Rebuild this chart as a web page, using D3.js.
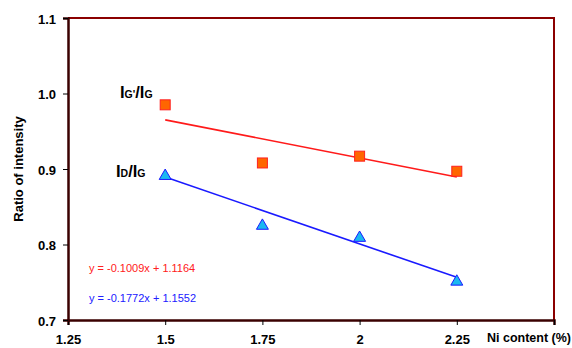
<!DOCTYPE html>
<html lang="en">
<head>
<meta charset="utf-8">
<title>Ratio of intensity vs Ni content</title>
<script src="https://d3js.org/d3.v7.min.js"></script>
<style>
	body { margin: 0; background: #fff; }
	text { font-family: Arial, "Liberation Sans", sans-serif; }
</style>
</head>
<body>
<div id="chart"></div>
<script>
// data
let niContent = [1.5, 1.75, 2.0, 2.25];
let ratioGpG = [0.985, 0.908, 0.917, 0.897];
let ratioDG = [0.893, 0.827, 0.811, 0.753];
// linear trend lines (slope, intercept) as printed on the chart
let trendGpG = [-0.1009, 1.1164];
let trendDG = [-0.1772, 1.1552];
let xTicks = [1.25, 1.5, 1.75, 2, 2.25, 2.5];
let yTicks = [0.7, 0.8, 0.9, 1.0, 1.1];

let width = 572, height = 348;
let plotL = 68, plotT = 18, plotR = 554, plotB = 320;

let svg = d3.select("#chart").append("svg")
	.attr("width", width)
	.attr("height", height);

let x = d3.scaleLinear().domain([1.25, 2.5]).range([plotL, plotR]);
let y = d3.scaleLinear().domain([0.7, 1.1]).range([plotB, plotT]);

// frame: top and right in dark red
svg.append("path")
	.attr("d", `M${plotL},${plotT}H${plotR}V${plotB}`)
	.attr("fill", "none")
	.attr("stroke", "#8b0000")
	.attr("stroke-width", 2);

// x axis
let xAxis = svg.append("g")
	.attr("transform", `translate(0,${plotB})`)
	.call(d3.axisBottom(x).tickValues(xTicks).tickSize(5).tickFormat(d => d == 2.5 ? "" : d3.format("")(d)));
xAxis.select(".domain").attr("stroke", "#3a0000").attr("stroke-width", 2.5);
xAxis.selectAll(".tick line").attr("stroke", "#000");
xAxis.selectAll(".tick text")
	.attr("y", 15)
	.attr("font-size", 13)
	.attr("font-weight", "bold")
	.attr("fill", "#000");

// y axis
let yAxis = svg.append("g")
	.attr("transform", `translate(${plotL},0)`)
	.call(d3.axisLeft(y).tickValues(yTicks).tickSize(5).tickFormat(d3.format(".1f")));
yAxis.select(".domain").attr("stroke", "#3a0000").attr("stroke-width", 2.5);
yAxis.selectAll(".tick line").attr("stroke", "#000");
yAxis.selectAll(".tick text")
	.attr("x", -12)
	.attr("dy", "0.42em")
	.attr("font-size", 13)
	.attr("font-weight", "bold")
	.attr("fill", "#000");

// axis titles
svg.append("text")
	.attr("transform", `translate(23,${(plotT + plotB) / 2}) rotate(-90)`)
	.attr("text-anchor", "middle")
	.attr("font-size", 13)
	.attr("font-weight", "bold")
	.text("Ratio of intensity");

svg.append("text")
	.attr("x", 571)
	.attr("y", 342)
	.attr("text-anchor", "end")
	.attr("font-size", 12.5)
	.attr("font-weight", "bold")
	.text("Ni content (%)");

// trend lines
function trendLine(coef, color) {
	let x0 = d3.min(niContent), x1 = d3.max(niContent);
	svg.append("line")
		.attr("x1", x(x0)).attr("y1", y(coef[0] * x0 + coef[1]))
		.attr("x2", x(x1)).attr("y2", y(coef[0] * x1 + coef[1]))
		.attr("stroke", color)
		.attr("stroke-width", 1.6);
}
trendLine(trendGpG, "#ff1a1a");
trendLine(trendDG, "#1a1aff");

// square markers
svg.selectAll("rect.gpg")
	.data(niContent)
	.enter()
	.append("rect")
	.attr("class", "gpg")
	.attr("x", (d, i) => x(d) - 5)
	.attr("y", (d, i) => y(ratioGpG[i]) - 5)
	.attr("width", 10)
	.attr("height", 10)
	.attr("fill", "#ff6600")
	.attr("stroke", "#ff2020")
	.attr("stroke-width", 1);

// triangle markers (shifted so the box, not the centroid, sits on the value)
let tri = d3.symbol().type(d3.symbolTriangle).size(62);
svg.selectAll("path.dg")
	.data(niContent)
	.enter()
	.append("path")
	.attr("class", "dg")
	.attr("d", tri)
	.attr("transform", (d, i) => `translate(${x(d)},${y(ratioDG[i]) + 1.7})`)
	.attr("fill", "#1ab8f0")
	.attr("stroke", "#1a1aff")
	.attr("stroke-width", 1);

// series labels  I_G'/I_G and I_D/I_G
function seriesLabel(px, py, sub1) {
	let t = svg.append("text")
		.attr("x", px).attr("y", py)
		.attr("font-weight", "bold")
		.attr("fill", "#000");
	t.append("tspan").attr("font-size", 16.5).text("I");
	t.append("tspan").attr("font-size", 10.5).text(sub1);
	t.append("tspan").attr("font-size", 16.5).text("/I");
	t.append("tspan").attr("font-size", 10.5).text("G");
}
seriesLabel(120, 98, "G'");
seriesLabel(116, 177, "D");

// equations
svg.append("text")
	.attr("x", 89).attr("y", 272)
	.attr("font-size", 11)
	.attr("fill", "#ff2020")
	.text("y = -0.1009x + 1.1164");
svg.append("text")
	.attr("x", 89).attr("y", 302)
	.attr("font-size", 11)
	.attr("fill", "#2020ff")
	.text("y = -0.1772x + 1.1552");
</script>
</body>
</html>
